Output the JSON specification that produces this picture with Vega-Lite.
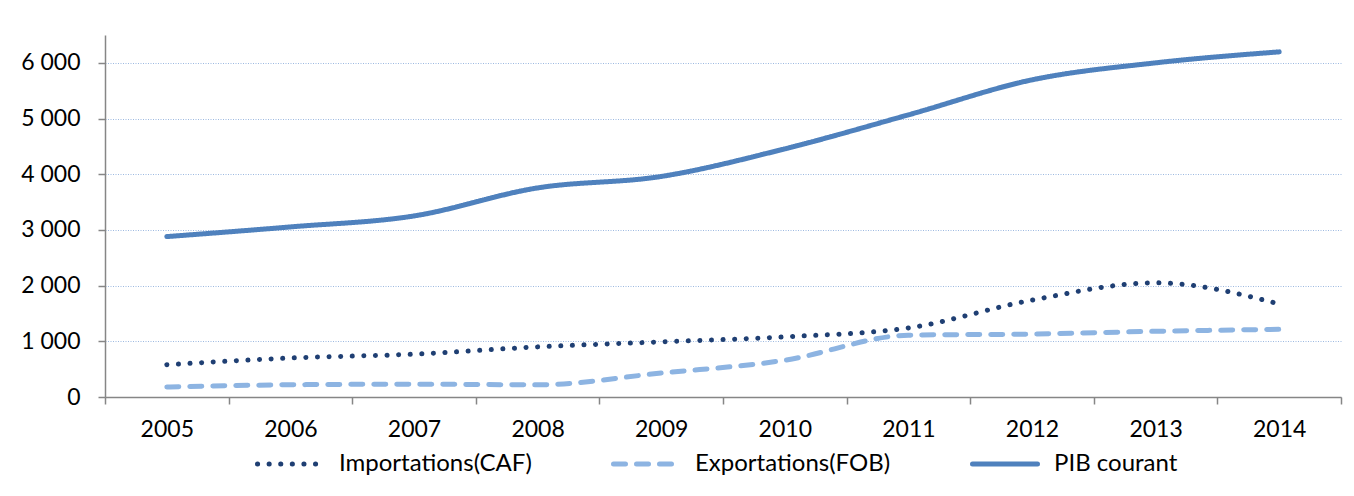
{
  "$schema": "https://vega.github.io/schema/vega-lite/v6.json",
  "autosize": "none",
  "width": 1236,
  "height": 362,
  "padding": {"left": 105, "top": 35, "right": 13, "bottom": 99},
  "background": "white",
  "config": {
    "locale": {"number": {"decimal": ",", "thousands": " ", "grouping": [3], "currency": ["", " €"]}},
    "font": "Lato",
    "view": {"stroke": null},
    "axis": {"labelFont": "Lato", "labelFontSize": 23, "labelColor": "#000000", "domainColor": "#868686", "tickColor": "#868686", "domainWidth": 1.5, "tickWidth": 1.5}
  },
  "data": {
    "values": [
      {"annee": "2005", "serie": "Importations(CAF)", "valeur": 580},
      {"annee": "2006", "serie": "Importations(CAF)", "valeur": 700},
      {"annee": "2007", "serie": "Importations(CAF)", "valeur": 770},
      {"annee": "2008", "serie": "Importations(CAF)", "valeur": 900},
      {"annee": "2009", "serie": "Importations(CAF)", "valeur": 990},
      {"annee": "2010", "serie": "Importations(CAF)", "valeur": 1080},
      {"annee": "2011", "serie": "Importations(CAF)", "valeur": 1240},
      {"annee": "2012", "serie": "Importations(CAF)", "valeur": 1740},
      {"annee": "2013", "serie": "Importations(CAF)", "valeur": 2050},
      {"annee": "2014", "serie": "Importations(CAF)", "valeur": 1670},
      {"annee": "2005", "serie": "Exportations(FOB)", "valeur": 180},
      {"annee": "2006", "serie": "Exportations(FOB)", "valeur": 220},
      {"annee": "2007", "serie": "Exportations(FOB)", "valeur": 230},
      {"annee": "2008", "serie": "Exportations(FOB)", "valeur": 220},
      {"annee": "2009", "serie": "Exportations(FOB)", "valeur": 430},
      {"annee": "2010", "serie": "Exportations(FOB)", "valeur": 660},
      {"annee": "2011", "serie": "Exportations(FOB)", "valeur": 1110},
      {"annee": "2012", "serie": "Exportations(FOB)", "valeur": 1130},
      {"annee": "2013", "serie": "Exportations(FOB)", "valeur": 1180},
      {"annee": "2014", "serie": "Exportations(FOB)", "valeur": 1215},
      {"annee": "2005", "serie": "PIB courant", "valeur": 2880},
      {"annee": "2006", "serie": "PIB courant", "valeur": 3054},
      {"annee": "2007", "serie": "PIB courant", "valeur": 3251},
      {"annee": "2008", "serie": "PIB courant", "valeur": 3754},
      {"annee": "2009", "serie": "PIB courant", "valeur": 3960},
      {"annee": "2010", "serie": "PIB courant", "valeur": 4455},
      {"annee": "2011", "serie": "PIB courant", "valeur": 5066},
      {"annee": "2012", "serie": "PIB courant", "valeur": 5694},
      {"annee": "2013", "serie": "PIB courant", "valeur": 6000},
      {"annee": "2014", "serie": "PIB courant", "valeur": 6197}
    ]
  },
  "mark": {"type": "line", "interpolate": "monotone", "strokeWidth": 5, "strokeCap": "round", "strokeJoin": "round"},
  "encoding": {
    "x": {
      "field": "annee", "type": "ordinal",
      "scale": {"paddingInner": 0, "paddingOuter": 0},
      "axis": {"title": null, "labelAngle": 0, "tickBand": "extent", "tickSize": 7, "labelPadding": 14, "grid": false}
    },
    "y": {
      "field": "valeur", "type": "quantitative",
      "scale": {"domain": [0, 6500], "nice": false},
      "axis": {"title": null, "values": [0, 1000, 2000, 3000, 4000, 5000, 6000], "format": ",d", "tickSize": 7, "labelPadding": 18,
        "grid": true, "gridColor": "#9DB9E0", "gridDash": [1, 1.5], "gridWidth": 1}
    },
    "color": {
      "field": "serie", "type": "nominal",
      "scale": {"domain": ["Importations(CAF)", "Exportations(FOB)", "PIB courant"], "range": ["#1F3F73", "#8DB4E2", "#4F81BD"]},
      "legend": {
        "title": null, "orient": "none", "legendX": 150, "legendY": 394, "direction": "horizontal",
        "symbolType": "stroke", "symbolSize": 4225, "symbolStrokeWidth": 5,
        "labelFont": "Lato", "labelFontSize": 24, "labelColor": "#000000", "labelOffset": 14, "labelLimit": 0,
        "columnPadding": 71,
        "encode": {"symbols": {"update": {"strokeCap": {"value": "round"}}}}
      }
    },
    "strokeDash": {
      "field": "serie", "type": "nominal",
      "scale": {"domain": ["Importations(CAF)", "Exportations(FOB)", "PIB courant"], "range": [[0.1, 11.5], [12, 11], [1, 0]]},
      "legend": null
    },
    "order": {"field": "serie"}
  }
}
